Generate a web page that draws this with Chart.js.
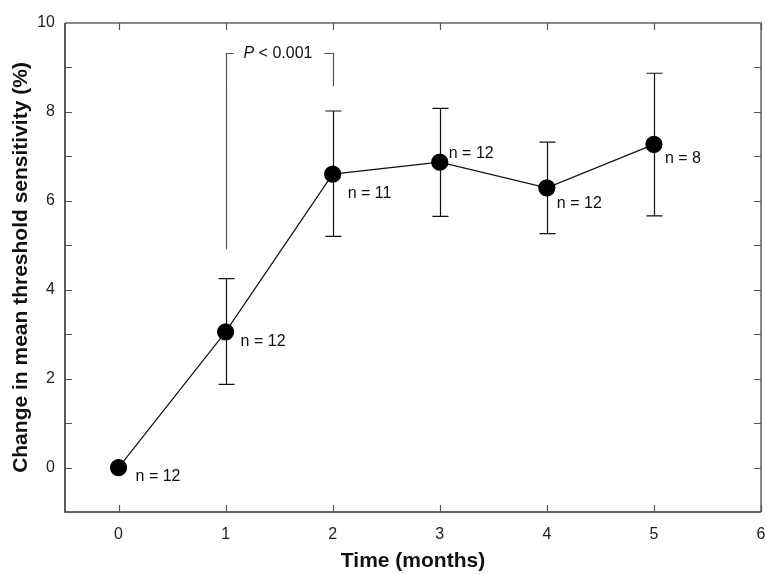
<!DOCTYPE html>
<html>
<head>
<meta charset="utf-8">
<script src="https://cdn.jsdelivr.net/npm/chart.js@4.4.1/dist/chart.umd.min.js"></script>
<style>
  html, body { margin: 0; padding: 0; background: #fff; overflow: hidden; }
  #wrap { width: 766px; height: 574px; }
  canvas { display: block; }
</style>
</head>
<body>
<div id="wrap"><canvas id="chart"></canvas></div>
<script>
// data
const months = [0, 1, 2, 3, 4, 5];
const meanChange = [0, 3.05, 6.6, 6.87, 6.29, 7.27];
const errLow = [null, 1.87, 5.2, 5.65, 5.26, 5.66];
const errHigh = [null, 4.25, 8.02, 8.08, 7.32, 8.87];
const nLabels = ['n = 12', 'n = 12', 'n = 11', 'n = 12', 'n = 12', 'n = 8'];
const xTicks = [0, 1, 2, 3, 4, 5, 6];
const yTicks = [0, 2, 4, 6, 8, 10];
const yMinorTicks = [0, 1, 2, 3, 4, 5, 6, 7, 8, 9];

// significance bracket between month 1 and month 2
const bracketX = [1, 2];
const bracketBottom = [4.91, 8.58];
const bracketTop = 9.32;
const bracketText = ['P', ' < 0.001'];

// where each n label sits relative to its point (px)
const labelOffsets = [[17, 9], [15, 10], [15, 19], [9, -9], [10, 16], [11, 14]];

const FONT = "'Liberation Sans', Arial, sans-serif";
Chart.defaults.font.family = FONT;
Chart.defaults.color = '#222';

const extras = {
  id: 'extras',
  beforeDatasetsDraw(chart) {
    const ctx = chart.ctx;
    const xs = chart.scales.x, ys = chart.scales.y;
    const a = chart.chartArea;
    ctx.save();

    // frame: dark left/bottom, lighter top/right
    ctx.lineWidth = 2;
    ctx.strokeStyle = '#888';
    ctx.beginPath();
    ctx.moveTo(a.left, a.top); ctx.lineTo(a.right, a.top); ctx.lineTo(a.right, a.bottom);
    ctx.stroke();
    ctx.lineWidth = 1.6;
    ctx.strokeStyle = '#333';
    ctx.beginPath();
    ctx.moveTo(a.left, a.top); ctx.lineTo(a.left, a.bottom); ctx.lineTo(a.right, a.bottom);
    ctx.stroke();

    // inside ticks on all four sides
    ctx.lineWidth = 1.2;
    ctx.strokeStyle = '#555';
    ctx.beginPath();
    xTicks.forEach(v => {
      const px = Math.round(xs.getPixelForValue(v)) + 0.5;
      ctx.moveTo(px, a.bottom); ctx.lineTo(px, a.bottom - 7);
      ctx.moveTo(px, a.top); ctx.lineTo(px, a.top + 7);
    });
    yMinorTicks.forEach(v => {
      const py = Math.round(ys.getPixelForValue(v)) + 0.5;
      ctx.moveTo(a.left, py); ctx.lineTo(a.left + 7, py);
      ctx.moveTo(a.right, py); ctx.lineTo(a.right - 7, py);
    });
    ctx.stroke();

    // error bars
    ctx.strokeStyle = '#111';
    ctx.lineWidth = 1.2;
    ctx.beginPath();
    months.forEach((m, i) => {
      if (errLow[i] == null) return;
      const px = Math.round(xs.getPixelForValue(m)) + 0.5;
      const lo = ys.getPixelForValue(errLow[i]);
      const hi = ys.getPixelForValue(errHigh[i]);
      ctx.moveTo(px, lo); ctx.lineTo(px, hi);
      ctx.moveTo(px - 8, hi); ctx.lineTo(px + 8, hi);
      ctx.moveTo(px - 8, lo); ctx.lineTo(px + 8, lo);
    });
    ctx.stroke();

    // bracket
    const bx1 = Math.round(xs.getPixelForValue(bracketX[0])) + 0.5;
    const bx2 = Math.round(xs.getPixelForValue(bracketX[1])) + 0.5;
    const by = Math.round(ys.getPixelForValue(bracketTop)) + 0.5;
    ctx.strokeStyle = '#555';
    ctx.lineWidth = 1.2;
    ctx.beginPath();
    ctx.moveTo(bx1, ys.getPixelForValue(bracketBottom[0]));
    ctx.lineTo(bx1, by); ctx.lineTo(bx1 + 7, by);
    ctx.moveTo(bx2 - 9, by); ctx.lineTo(bx2, by);
    ctx.lineTo(bx2, ys.getPixelForValue(bracketBottom[1]));
    ctx.stroke();

    ctx.fillStyle = '#111';
    ctx.textBaseline = 'middle';
    ctx.textAlign = 'left';
    ctx.font = 'italic 16px ' + FONT;
    const tx = bx1 + 17;
    ctx.fillText(bracketText[0], tx, by);
    const w = ctx.measureText(bracketText[0]).width;
    ctx.font = '16px ' + FONT;
    ctx.fillText(bracketText[1], tx + w, by);
    ctx.restore();
  },
  afterDatasetsDraw(chart) {
    const ctx = chart.ctx;
    const xs = chart.scales.x, ys = chart.scales.y;
    ctx.save();
    ctx.fillStyle = '#111';
    ctx.font = '16px ' + FONT;
    ctx.textAlign = 'left';
    ctx.textBaseline = 'middle';
    months.forEach((m, i) => {
      const px = xs.getPixelForValue(m), py = ys.getPixelForValue(meanChange[i]);
      ctx.fillText(nLabels[i], px + labelOffsets[i][0], py + labelOffsets[i][1]);
    });
    ctx.restore();
  }
};

new Chart(document.getElementById('chart'), {
  type: 'line',
  data: {
    datasets: [{
      data: months.map((m, i) => ({ x: m, y: meanChange[i] })),
      borderColor: '#111',
      borderWidth: 1.2,
      pointRadius: 8,
      pointHoverRadius: 8,
      pointBackgroundColor: '#000',
      pointBorderColor: '#000',
      tension: 0
    }]
  },
  options: {
    responsive: true,
    maintainAspectRatio: false,
    animation: false,
    events: [],
    layout: { autoPadding: false, padding: { top: 23, right: 5, left: 0, bottom: 0 } },
    plugins: { legend: { display: false }, tooltip: { enabled: false } },
    scales: {
      x: {
        type: 'linear',
        min: -0.5,
        max: 6,
        afterBuildTicks: s => { s.ticks = xTicks.map(v => ({ value: v })); },
        afterFit: s => { s.height = 62; s.paddingLeft = 0; s.paddingRight = 0; },
        grid: { display: false, drawTicks: false },
        border: { display: false },
        ticks: { font: { size: 16 }, padding: 13, maxRotation: 0 },
        title: {
          display: true,
          text: 'Time (months)',
          font: { size: 21, weight: 'bold' },
          color: '#111',
          padding: { top: 0, bottom: 0 }
        }
      },
      y: {
        type: 'linear',
        min: -1,
        max: 10,
        afterBuildTicks: s => { s.ticks = yTicks.map(v => ({ value: v })); },
        afterFit: s => { s.width = 65; s.paddingTop = 0; s.paddingBottom = 0; },
        grid: { display: false, drawTicks: false },
        border: { display: false },
        ticks: { font: { size: 16 }, padding: 10 },
        title: {
          display: true,
          text: 'Change in mean threshold sensitivity (%)',
          font: { size: 21, weight: 'bold' },
          color: '#111',
          padding: { top: 9, bottom: 0 }
        }
      }
    }
  },
  plugins: [extras]
});
</script>
</body>
</html>
